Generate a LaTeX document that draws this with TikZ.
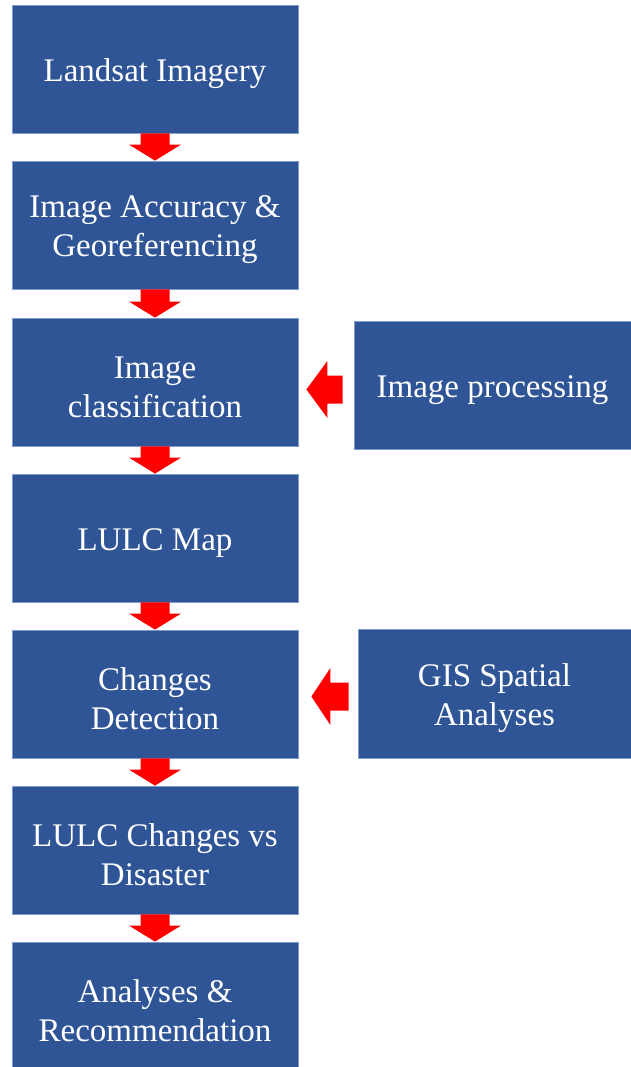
\documentclass[tikz,border=0pt]{standalone}
\usepackage{fontspec}
\setmainfont{Liberation Serif}
\usetikzlibrary{calc}
\definecolor{boxblue}{HTML}{2F5597}
\definecolor{boxedge}{HTML}{7F9BCB}
\definecolor{arrred}{HTML}{FF0000}
\tikzset{
  flowbox/.style={rectangle, fill=boxblue, draw=boxedge, line width=0.8pt,
    inner sep=0pt},
  boxtext/.style={text=white, align=center, inner sep=0pt, yshift=-5pt,
    font=\fontsize{33}{39}\selectfont},
  arrfill/.style={fill=arrred, draw=none}
}
\newcommand{\DownArr}[2]{%
  \fill[arrfill] ($(#1.south)+(-14.5,0)$) -- ($(#1.south)+(14.5,0)$)
    -- ($(#2.north)+(14.5,-16)$) -- ($(#2.north)+(26,-16)$)
    -- (#2.north) -- ($(#2.north)+(-26,-16)$) -- ($(#2.north)+(-14.5,-16)$) -- cycle;}
\begin{document}
\begin{tikzpicture}[x=1pt,y=-1pt]
\useasboundingbox (0,0) rectangle (631,1067);
\fill[white] (0,0) rectangle (631,1067);
\node[flowbox, minimum width=286pt, minimum height=128pt,
  label={[boxtext]center:{Landsat Imagery}}] (b1) at (155,69) {};
\node[flowbox, minimum width=286pt, minimum height=128pt,
  label={[boxtext]center:{Image Accuracy \&\\Georeferencing}}] (b2) at (155,225) {};
\node[flowbox, minimum width=286pt, minimum height=128pt,
  label={[boxtext]center:{Image\\classification}}] (b3) at (155,382) {};
\node[flowbox, minimum width=286pt, minimum height=128pt,
  label={[boxtext]center:{LULC Map}}] (b4) at (155,538) {};
\node[flowbox, minimum width=286pt, minimum height=128pt,
  label={[boxtext]center:{Changes\\Detection}}] (b5) at (155,694) {};
\node[flowbox, minimum width=286pt, minimum height=128pt,
  label={[boxtext]center:{LULC Changes vs\\Disaster}}] (b6) at (155,850) {};
\node[flowbox, minimum width=286pt, minimum height=128pt,
  label={[boxtext]center:{Analyses \&\\Recommendation}}] (b7) at (155,1006) {};
\node[flowbox, minimum width=277pt, minimum height=128pt,
  label={[boxtext]center:{Image processing}}] (r1) at (492.5,385) {};
\node[flowbox, minimum width=273pt, minimum height=129pt,
  label={[boxtext]center:{GIS Spatial\\Analyses}}] (r2) at (494.5,693.5) {};
\DownArr{b1}{b2}
\DownArr{b2}{b3}
\DownArr{b3}{b4}
\DownArr{b4}{b5}
\DownArr{b5}{b6}
\DownArr{b6}{b7}
% left arrows
\coordinate (t1) at ($(b3.east)+(8,7.5)$);
\coordinate (s1) at ($(r1.west)+(-11,4.5)$);
\fill[arrfill] (t1) -- ($(t1)+(21,-28.5)$) -- ($(t1)+(21,-14)$) -- ($(s1)+(0,-14)$)
  -- ($(s1)+(0,14)$) -- ($(t1)+(21,14)$) -- ($(t1)+(21,28.5)$) -- cycle;
\coordinate (t2) at ($(b5.east)+(13,2.5)$);
\coordinate (s2) at ($(r2.west)+(-9,3)$);
\fill[arrfill] (t2) -- ($(t2)+(19,-28.5)$) -- ($(t2)+(19,-14)$) -- ($(s2)+(0,-14)$)
  -- ($(s2)+(0,14)$) -- ($(t2)+(19,14)$) -- ($(t2)+(19,28.5)$) -- cycle;
\end{tikzpicture}
\end{document}
